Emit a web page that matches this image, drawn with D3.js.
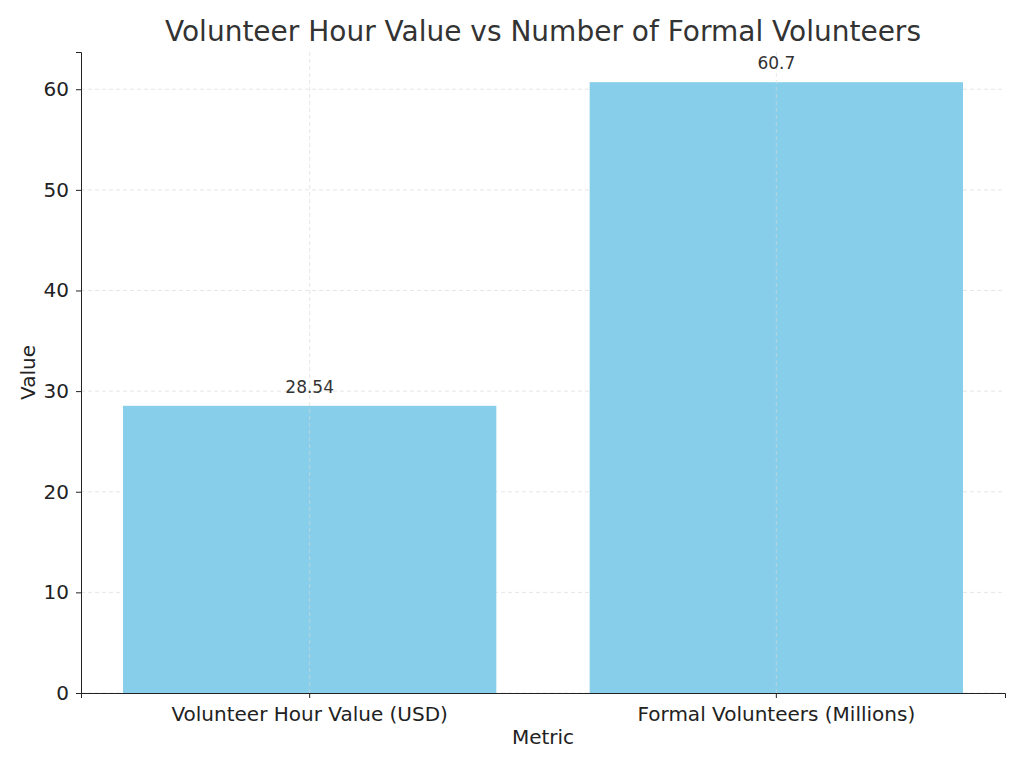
<!DOCTYPE html>
<html>
<head>
<meta charset="utf-8">
<script src="https://cdn.jsdelivr.net/npm/d3@7"></script>
<style>
  body { margin: 0; background: #fff; }
  text { font-family: "DejaVu Sans", sans-serif; }
</style>
</head>
<body>
<svg id="chart" width="1024" height="768"></svg>
<script>
// chart data
var categories = ["Volunteer Hour Value (USD)", "Formal Volunteers (Millions)"];
var values = [28.54, 60.7];
var labels = ["28.54", "60.7"];
var yTicks = [0, 10, 20, 30, 40, 50, 60];

var svg = d3.select("#chart");
var mLeft = 81, mRight = 1005, mTop = 52, mBottom = 693;

var x = d3.scaleBand().domain(categories).range([mLeft, mRight])
  .paddingInner(0.2).paddingOuter(0.09);
var y = d3.scaleLinear().domain([0, 63.7]).range([mBottom, mTop]);

// grid
svg.append("g").selectAll("line").data(yTicks).join("line")
  .attr("x1", mLeft).attr("x2", mRight)
  .attr("y1", d => y(d)).attr("y2", d => y(d))
  .attr("stroke", "#e6e6e6").attr("stroke-dasharray", "4,3");

// bars
svg.append("g").selectAll("rect").data(values).join("rect")
  .attr("x", (d, i) => x(categories[i]))
  .attr("width", x.bandwidth())
  .attr("y", d => y(d))
  .attr("height", d => mBottom - y(d))
  .attr("fill", "#87ceeb");

svg.append("g").selectAll("line").data(categories).join("line")
  .attr("x1", d => x(d) + x.bandwidth() / 2).attr("x2", d => x(d) + x.bandwidth() / 2)
  .attr("y1", mTop).attr("y2", mBottom)
  .attr("stroke", "#d8d8d8").attr("stroke-opacity", 0.6).attr("stroke-dasharray", "4,3");

// value labels
svg.append("g").selectAll("text").data(values).join("text")
  .attr("x", (d, i) => x(categories[i]) + x.bandwidth() / 2)
  .attr("y", d => y(d) - 13)
  .attr("text-anchor", "middle").attr("font-size", 17).attr("fill", "#333")
  .text((d, i) => labels[i]);

// axes
var xAxis = svg.append("g").attr("transform", "translate(0," + mBottom + ")")
  .call(d3.axisBottom(x).tickSizeOuter(0).tickSize(5));
var yAxis = svg.append("g").attr("transform", "translate(" + mLeft + ",0)")
  .call(d3.axisLeft(y).tickValues(yTicks).tickSizeOuter(0).tickSize(5));
[xAxis, yAxis].forEach(a => {
  a.selectAll("text").attr("font-size", 20).attr("fill", "#222");
  a.selectAll("line, path").attr("stroke", "#222");
});
xAxis.selectAll("text").attr("dy", "1em");
yAxis.selectAll("text").attr("dx", "-0.2em");

svg.append("text").attr("x", (mLeft + mRight) / 2).attr("y", 744)
  .attr("text-anchor", "middle").attr("font-size", 20).attr("fill", "#222").text("Metric");
svg.append("text").attr("transform", "translate(35," + ((mTop + mBottom) / 2) + ") rotate(-90)")
  .attr("text-anchor", "middle").attr("font-size", 20).attr("fill", "#222").text("Value");
svg.append("text").attr("x", (mLeft + mRight) / 2).attr("y", 41)
  .attr("text-anchor", "middle").attr("font-size", 28).attr("fill", "#333")
  .text("Volunteer Hour Value vs Number of Formal Volunteers");
</script>
</body>
</html>
